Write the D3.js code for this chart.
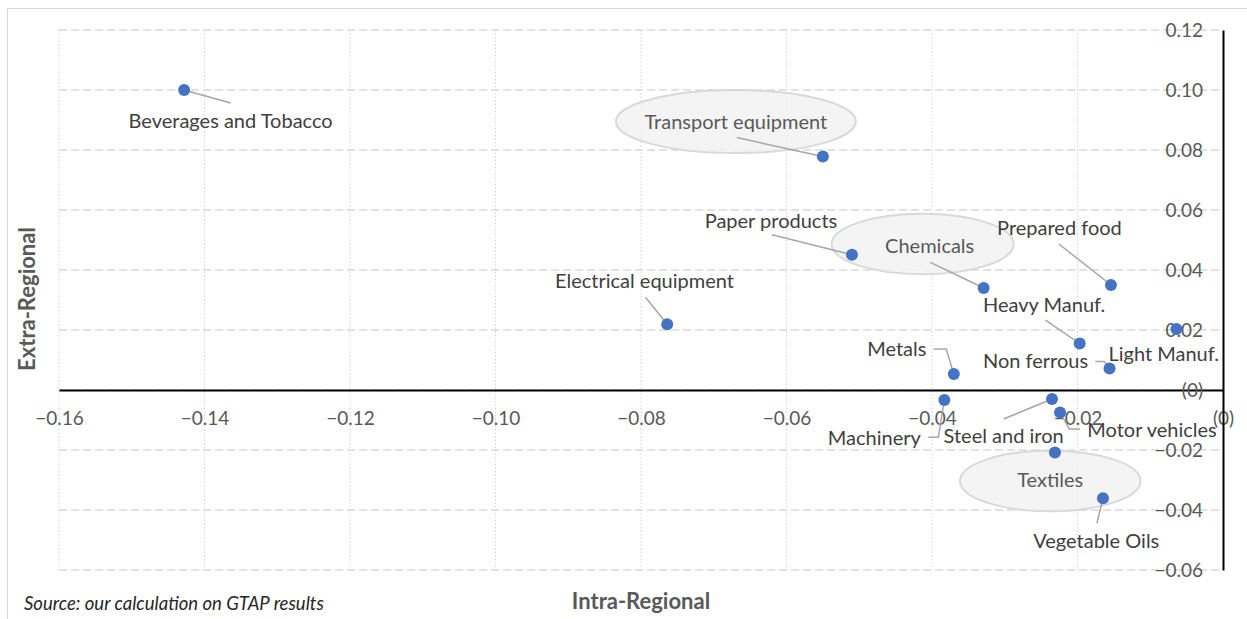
<!DOCTYPE html>
<html>
<head>
<meta charset="utf-8">
<script src="https://cdn.jsdelivr.net/npm/d3@7"></script>
<style>
  body { margin: 0; background: #fff; }
  svg text { font-family: Lato, "Open Sans", sans-serif; }
</style>
</head>
<body>
<div id="chart"></div>
<script>
// data
const sectors = ["Beverages and Tobacco", "Transport equipment", "Paper products", "Chemicals",
                 "Prepared food", "Light Manuf.", "Heavy Manuf.", "Non ferrous", "Metals",
                 "Machinery", "Steel and iron", "Motor vehicles", "Textiles", "Vegetable Oils",
                 "Electrical equipment"];
const intraRegional = [-0.1428, -0.0550, -0.0510, -0.0329, -0.0154, -0.0064, -0.0197, -0.0156,
                       -0.0370, -0.0383, -0.0235, -0.0224, -0.0231, -0.0165, -0.0764];
const extraRegional = [0.1000, 0.0778, 0.0451, 0.0340, 0.0350, 0.0203, 0.0155, 0.0072,
                       0.0053, -0.0033, -0.0030, -0.0075, -0.0208, -0.0361, 0.0219];
const highlighted = ["Transport equipment", "Chemicals", "Textiles"];
const xTicks = [-0.16, -0.14, -0.12, -0.10, -0.08, -0.06, -0.04, -0.02, 0];
const yTicks = [0.12, 0.10, 0.08, 0.06, 0.04, 0.02, 0, -0.02, -0.04, -0.06];

// label placement relative to each point (px): text offset, leader polyline
const labelLayout = {
  "Beverages and Tobacco": { dx: 46.5, dy: 31, leader: [[46.5, 13]] },
  "Transport equipment":   { dx: -87, dy: -35, leader: [[-86, -19]], ell: [0, 0, 120, 31.5] },
  "Paper products":        { dx: -81, dy: -34, leader: [[-80, -20]] },
  "Chemicals":             { dx: -54, dy: -42, leader: [[-53.3, -25.6]], ell: [-7, -2, 91, 30.3] },
  "Prepared food":         { dx: -51.5, dy: -57, leader: [[-52, -41]] },
  "Light Manuf.":          { dx: -12.7, dy: 24.4, leader: [] },
  "Heavy Manuf.":          { dx: -35.5, dy: -38.7, leader: [[-34.3, -23.4]] },
  "Non ferrous":           { dx: -74, dy: -7, leader: [[-14.3, -7], [-5.3, -7]] },
  "Metals":                { dx: -57, dy: -25, leader: [[-20, -25], [-7.6, -25]] },
  "Machinery":             { dx: -70, dy: 38, leader: [[-16, 37.4], [-6, 37.4]] },
  "Steel and iron":        { dx: -48.4, dy: 36.7, leader: [[-48.4, 20]] },
  "Motor vehicles":        { dx: 92, dy: 17.6, leader: [[20, 16.6], [9.3, 16.6]] },
  "Textiles":              { dx: -4.7, dy: 27.6, leader: [], ell: [0, 1, 90.3, 30.3] },
  "Vegetable Oils":        { dx: -6.7, dy: 43, leader: [[-6, 25]] },
  "Electrical equipment":  { dx: -22.7, dy: -43, leader: [[-21.7, -27]] }
};

const w = 1247;
const h = 619;

const points = sectors.map((s, i) => ({ name: s, x: intraRegional[i], y: extraRegional[i] }));

let svg = d3.select("#chart").append("svg")
            .attr("width", w)
            .attr("height", h);

// chart area border
svg.append("rect")
   .attr("x", 7.5).attr("y", 8.5)
   .attr("width", 1300).attr("height", 700)
   .attr("fill", "none")
   .attr("stroke", "#d9d9d9");

let xScale = d3.scaleLinear().domain([-0.16, 0]).range([59, 1223]);
let yScale = d3.scaleLinear().domain([-0.06, 0.12]).range([570, 30]);

const fmt = v => {
  if (Math.abs(v) < 1e-9) return "(0)";
  return (v < 0 ? "\u2212" : "") + Math.abs(v).toFixed(2);
};

// gridlines
svg.append("g").selectAll("line").data(xTicks.filter(t => t !== 0)).enter().append("line")
   .attr("x1", d => xScale(d)).attr("x2", d => xScale(d))
   .attr("y1", yScale(0.12)).attr("y2", yScale(-0.06))
   .attr("stroke", "#d4d4d4").attr("stroke-width", 1)
   .attr("stroke-dasharray", "1.5,2");

svg.append("g").selectAll("line").data(yTicks).enter().append("line")
   .attr("x1", xScale(-0.16)).attr("x2", xScale(0))
   .attr("y1", d => yScale(d)).attr("y2", d => yScale(d))
   .attr("stroke", "#d9d9d9").attr("stroke-width", 1.6)
   .attr("stroke-dasharray", "8,4");

// axes
let xAxis = d3.axisBottom(xScale).tickValues(xTicks).tickFormat(fmt).tickSize(0).tickSizeOuter(0);
let gx = svg.append("g")
   .attr("transform", "translate(0," + yScale(0) + ")")
   .call(xAxis);
gx.select(".domain").attr("stroke", "#000").attr("stroke-width", 2);
gx.selectAll("text").attr("y", 28).attr("dy", "0.35em")
  .attr("font-size", 19).attr("fill", "#595959");

let yAxis = d3.axisLeft(yScale).tickValues(yTicks).tickFormat(fmt).tickSize(0).tickSizeOuter(0).tickPadding(20);
let gy = svg.append("g")
   .attr("transform", "translate(" + xScale(0) + ",0)")
   .call(yAxis);
gy.select(".domain").attr("stroke", "#000").attr("stroke-width", 2);
gy.selectAll("text").attr("font-size", 19).attr("fill", "#595959");

// highlight ellipses
svg.append("g").selectAll("ellipse").data(points.filter(p => highlighted.includes(p.name))).enter()
   .append("ellipse")
   .attr("cx", p => xScale(p.x) + labelLayout[p.name].dx + labelLayout[p.name].ell[0])
   .attr("cy", p => yScale(p.y) + labelLayout[p.name].dy + labelLayout[p.name].ell[1])
   .attr("rx", p => labelLayout[p.name].ell[2])
   .attr("ry", p => labelLayout[p.name].ell[3])
   .attr("fill", "#f2f2f2").attr("fill-opacity", 0.85)
   .attr("stroke", "#d9d9d9").attr("stroke-width", 2);

// leader lines
svg.append("g").selectAll("polyline").data(points.filter(p => labelLayout[p.name].leader.length)).enter()
   .append("polyline")
   .attr("points", p => {
     const px = xScale(p.x), py = yScale(p.y);
     const pts = labelLayout[p.name].leader.map(o => [px + o[0], py + o[1]]);
     pts.push([px, py]);
     return pts.map(q => q.join(",")).join(" ");
   })
   .attr("fill", "none")
   .attr("stroke", "#a6a6a6")
   .attr("stroke-width", 1.5);

// points
svg.append("g").selectAll("circle").data(points).enter().append("circle")
   .attr("cx", p => xScale(p.x))
   .attr("cy", p => yScale(p.y))
   .attr("r", 6)
   .attr("fill", "#4472c4");

// data labels
svg.append("g").selectAll("text").data(points).enter().append("text")
   .text(p => p.name)
   .attr("x", p => xScale(p.x) + labelLayout[p.name].dx)
   .attr("y", p => yScale(p.y) + labelLayout[p.name].dy)
   .attr("dy", "0.35em")
   .attr("text-anchor", "middle")
   .attr("font-size", 20)
   .attr("fill", p => highlighted.includes(p.name) ? "#595959" : "#404040");

// axis titles
svg.append("text")
   .attr("text-anchor", "middle")
   .attr("transform", "translate(27," + 299 + ")rotate(-90)")
   .attr("dy", "0.35em")
   .attr("font-size", 22).attr("font-weight", "bold").attr("fill", "#595959")
   .text("Extra-Regional");

svg.append("text")
   .attr("text-anchor", "middle")
   .attr("x", 641).attr("y", 601).attr("dy", "0.35em")
   .attr("font-size", 22).attr("font-weight", "bold").attr("fill", "#595959")
   .text("Intra-Regional");

svg.append("text")
   .attr("x", 24).attr("y", 604).attr("dy", "0.35em")
   .attr("font-size", 18.5).attr("font-style", "italic").attr("fill", "#262626")
   .text("Source: our calculation on GTAP results");
</script>
</body>
</html>
